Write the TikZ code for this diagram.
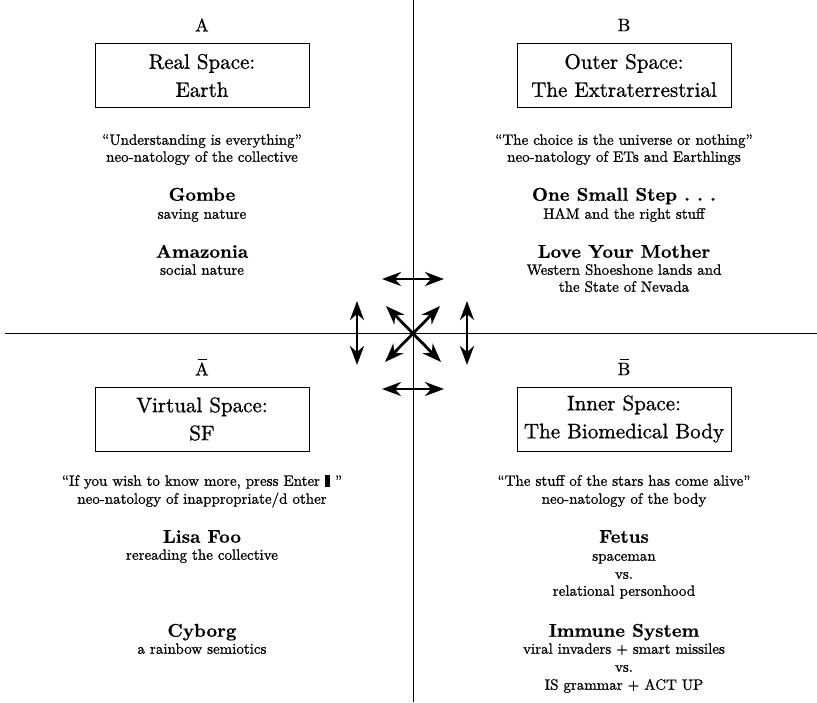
\documentclass[tikz,border=0pt]{standalone}
\usepackage{fontspec}
\setmainfont{lmroman10-regular.otf}[FakeBold=0.9, BoldFont=lmroman10-bold.otf, BoldFeatures={FakeBold=0.5}]
\usetikzlibrary{arrows.meta}
\tikzset{
  sm/.style={font=\fontsize{15}{17}\selectfont, inner sep=0pt, text height=10.5pt, text depth=3pt},
  hd/.style={font=\fontsize{18.5}{20}\selectfont\bfseries, inner sep=0pt, text height=13pt, text depth=3.5pt},
  bx/.style={draw, line width=1pt, minimum width=214pt, minimum height=64pt, font=\fontsize{21}{28}\selectfont, align=center, inner sep=0pt},
  lt/.style={font=\fontsize{18}{20}\selectfont, inner sep=0pt},
  barline/.style={line width=1.1pt},
  dbl/.style={{Stealth[length=19pt,width=14pt,inset=6pt]}-{Stealth[length=19pt,width=14pt,inset=6pt]}, line width=2.8pt},
  axisline/.style={line width=1pt}
}
\begin{document}
\begin{tikzpicture}[x=1pt,y=-1pt]
\useasboundingbox (0,0) rectangle (817,702);
% axes
\coordinate (vt) at (413,0);
\coordinate (vb) at (413,702);
\coordinate (hl) at (5,333);
\coordinate (hr) at (817,333);
\draw[axisline] (vt) -- (vb);
\draw[axisline] (hl) -- (hr);
% central arrows
\coordinate (t1) at (382,279); \coordinate (t2) at (444,279);
\coordinate (b1) at (382,389); \coordinate (b2) at (444,389);
\coordinate (l1) at (357,301); \coordinate (l2) at (357,365);
\coordinate (r1) at (467,301); \coordinate (r2) at (467,365);
\coordinate (d1) at (386,306); \coordinate (d2) at (441,362);
\coordinate (e1) at (440,306); \coordinate (e2) at (385,362);
\draw[dbl] (t1) -- (t2);
\draw[dbl] (b1) -- (b2);
\draw[dbl] (l1) -- (l2);
\draw[dbl] (r1) -- (r2);
\draw[dbl] (d1) -- (d2);
\draw[dbl] (e1) -- (e2);
% quadrant A
\node[lt] (A) at (202,25) {A};
\node[bx] (boxA) at (202,75.5) {Real Space:\\Earth};
\node[sm] (qA) at (202,141) {``Understanding is everything''};
\node[sm] (nA) at (202,158) {neo-natology of the collective};
\node[hd] (gombe) at (202,196) {Gombe};
\node[sm] (gombes) at (202,215) {saving nature};
\node[hd] (amaz) at (202,253) {Amazonia};
\node[sm] (amazs) at (202,271) {social nature};
% quadrant B
\node[lt] (B) at (624,25) {B};
\node[bx] (boxB) at (624,75.5) {Outer Space:\\The Extraterrestrial};
\node[sm] (qB) at (624,141) {``The choice is the universe or nothing''};
\node[sm] (nB) at (624,158) {neo-natology of ETs and Earthlings};
\node[hd] (oss) at (624,196) {One Small Step\ .\ .\ .};
\node[sm] (osss) at (624,215) {HAM and the right stuff};
\node[hd] (lym) at (624,253) {Love Your Mother};
\node[sm] (lyms1) at (624,271) {Western Shoeshone lands and};
\node[sm] (lyms2) at (624,288) {the State of Nevada};
% quadrant A bar
\node[lt] (Ab) at (202,369) {A};
\draw[barline] ([xshift=-4.5pt,yshift=3pt]Ab.north) -- ([xshift=4.5pt,yshift=3pt]Ab.north);
\node[bx] (boxAb) at (202,419) {Virtual Space:\\SF};
\node[sm] (qAb) at (202,482) {``If you wish to know more, press Enter \rule[-1pt]{5pt}{11.5pt}\ ''};
\node[sm] (nAb) at (202,500) {neo-natology of inappropriate/d other};
\node[hd] (lisa) at (202,538) {Lisa Foo};
\node[sm] (lisas) at (202,556) {rereading the collective};
\node[hd] (cyb) at (202,632) {Cyborg};
\node[sm] (cybs) at (202,650) {a rainbow semiotics};
% quadrant B bar
\node[lt] (Bb) at (624,369) {B};
\draw[barline] ([xshift=-4.5pt,yshift=3pt]Bb.north) -- ([xshift=4.5pt,yshift=3pt]Bb.north);
\node[bx] (boxBb) at (624,419) {Inner Space:\\The Biomedical Body};
\node[sm] (qBb) at (624,482) {``The stuff of the stars has come alive''};
\node[sm] (nBb) at (624,500) {neo-natology of the body};
\node[hd] (fetus) at (624,538) {Fetus};
\node[sm] (fet1) at (624,557) {spaceman};
\node[sm] (fet2) at (624,575) {vs.};
\node[sm] (fet3) at (624,592) {relational personhood};
\node[hd] (imm) at (624,632) {Immune System};
\node[sm] (imm1) at (624,650) {viral invaders + smart missiles};
\node[sm] (imm2) at (624,668) {vs.};
\node[sm] (imm3) at (624,686) {IS grammar + ACT UP};
\end{tikzpicture}
\end{document}
